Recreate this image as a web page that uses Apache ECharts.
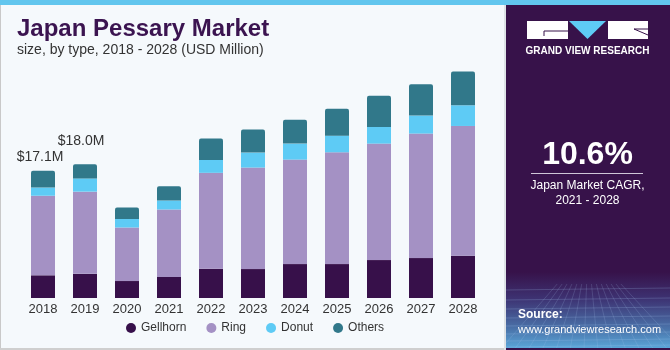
<!DOCTYPE html>
<html>
<head>
<meta charset="utf-8">
<script src="https://cdn.jsdelivr.net/npm/echarts@6/dist/echarts.min.js"></script>
<style>
  html, body { margin: 0; padding: 0; background: #f5f9fc; }
  #chart { width: 670px; height: 350px; }
</style>
</head>
<body>
<div id="chart"></div>
<script>
// values (USD Million)
const years = ['2018', '2019', '2020', '2021', '2022', '2023', '2024', '2025', '2026', '2027', '2028'];
const gellhorn = [3.05, 3.25, 2.28, 2.82, 3.93, 3.89, 4.56, 4.56, 5.10, 5.37, 5.68];
const ring = [10.70, 11.05, 7.20, 9.08, 12.90, 13.65, 14.05, 15.03, 15.66, 16.74, 17.45];
const donut = [1.10, 1.78, 1.15, 1.21, 1.74, 2.01, 2.15, 2.24, 2.23, 2.42, 2.78];
const others = [2.25, 1.92, 1.53, 1.92, 2.87, 3.09, 3.22, 3.62, 4.21, 4.20, 4.56];
const totalLabels = ['$17.1M', '$18.0M'];

const colors = ['#37104a', '#a491c4', '#5ecbf5', '#31788a'];
const font = '"Liberation Sans", Arial, sans-serif';

const chart = echarts.init(document.getElementById('chart'));

// only the first two bars carry a total label
const labelOffsets = [[-3, -2], [-4, -11]];
const othersData = others.map((v, i) => {
  if (i < totalLabels.length) {
    return {
      value: v,
      label: {
        show: true,
        position: 'top',
        formatter: totalLabels[i],
        offset: labelOffsets[i],
        color: '#333',
        fontSize: 14,
        fontFamily: font
      }
    };
  }
  return v;
});

function bar(name, data, idx) {
  return {
    name: name,
    type: 'bar',
    stack: 'total',
    barWidth: 24,
    data: data,
    itemStyle: {
      color: colors[idx],
      borderRadius: idx === 3 ? [2, 2, 0, 0] : 0
    },
    emphasis: { disabled: true }
  };
}

// faint mesh at the foot of the side panel (decoration only)
const mesh = [];
[290, 300, 309, 318, 326, 334, 341, 347].forEach(y => {
  mesh.push({ type: 'line', silent: true, shape: { x1: 506, y1: y, x2: 670, y2: y - 2 },
    style: { stroke: 'rgba(170,200,240,0.22)', lineWidth: 1 } });
});
for (let x = 500; x <= 690; x += 14) {
  mesh.push({ type: 'line', silent: true, shape: { x1: 588 + (x - 588) * 0.35, y1: 284, x2: x, y2: 350 },
    style: { stroke: 'rgba(170,200,240,0.18)', lineWidth: 1 } });
}

const option = {
  backgroundColor: '#f5f9fc',
  animation: false,
  textStyle: { fontFamily: font },
  grid: { left: 22, right: 186, top: 60, bottom: 52 },
  xAxis: {
    type: 'category',
    data: years,
    axisLine: { show: false },
    axisTick: { show: false },
    axisLabel: { color: '#333', fontSize: 13, margin: 5, fontFamily: font }
  },
  yAxis: {
    type: 'value',
    min: 0,
    max: 32,
    show: false
  },
  legend: {
    left: 126,
    top: 322,
    padding: 0,
    icon: 'circle',
    itemWidth: 10,
    itemHeight: 10,
    itemGap: 20,
    textStyle: { color: '#333', fontSize: 12, fontFamily: font },
    data: ['Gellhorn', 'Ring', 'Donut', 'Others']
  },
  series: [
    bar('Gellhorn', gellhorn, 0),
    bar('Ring', ring, 1),
    bar('Donut', donut, 2),
    bar('Others', othersData, 3)
  ],
  graphic: [
    // frame lines
    { type: 'rect', shape: { x: 0, y: 0, width: 1, height: 350 }, style: { fill: '#c9c9c9' }, silent: true },
    { type: 'rect', shape: { x: 0, y: 348, width: 670, height: 2 }, style: { fill: '#cfcfcf' }, silent: true },
    { type: 'rect', shape: { x: 504, y: 0, width: 2, height: 350 }, style: { fill: '#dde2e6' }, silent: true },
    // right panel
    { type: 'rect', shape: { x: 506, y: 0, width: 164, height: 350 }, style: { fill: '#37124a' }, silent: true },
    {
      type: 'rect', shape: { x: 506, y: 272, width: 164, height: 76 }, silent: true,
      style: {
        fill: new echarts.graphic.LinearGradient(0, 0, 0, 1, [
          { offset: 0, color: '#37124a' },
          { offset: 0.35, color: '#3d3272' },
          { offset: 0.75, color: '#4a73aa' },
          { offset: 1, color: '#5aa6d8' }
        ])
      }
    },
    {
      type: 'group', silent: true,
      clipPath: { type: 'rect', shape: { x: 506, y: 284, width: 164, height: 64 } },
      children: mesh
    },
    // top strip
    { type: 'rect', shape: { x: 0, y: 0, width: 670, height: 5 }, style: { fill: '#62c6ee' }, silent: true },
    // title
    {
      type: 'text', x: 17, y: 29, silent: true,
      style: { text: 'Japan Pessary Market', fill: '#3b1450', font: 'bold 24px ' + font, verticalAlign: 'middle' }
    },
    {
      type: 'text', x: 17, y: 50, silent: true,
      style: { text: 'size, by type, 2018 - 2028 (USD Million)', fill: '#333', font: '14px ' + font, verticalAlign: 'middle' }
    },
    // logo
    { type: 'rect', shape: { x: 527, y: 21, width: 41, height: 18 }, style: { fill: '#fff' }, silent: true },
    { type: 'line', shape: { x1: 544, y1: 31, x2: 568, y2: 31 }, style: { stroke: '#37124a', lineWidth: 1 }, silent: true },
    { type: 'line', shape: { x1: 544, y1: 31, x2: 544, y2: 36 }, style: { stroke: '#37124a', lineWidth: 1 }, silent: true },
    { type: 'polygon', shape: { points: [[569, 21], [606, 21], [587.5, 39]] }, style: { fill: '#5ecbf5' }, silent: true },
    { type: 'rect', shape: { x: 608, y: 21, width: 40, height: 18 }, style: { fill: '#fff' }, silent: true },
    { type: 'line', shape: { x1: 634, y1: 29, x2: 648, y2: 35 }, style: { stroke: '#37124a', lineWidth: 1 }, silent: true },
    { type: 'line', shape: { x1: 634, y1: 29, x2: 648, y2: 29 }, style: { stroke: '#37124a', lineWidth: 1 }, silent: true },
    {
      type: 'text', x: 587.5, y: 51, silent: true,
      style: { text: 'GRAND VIEW RESEARCH', fill: '#fff', font: 'bold 10px ' + font, align: 'center', verticalAlign: 'middle' }
    },
    // CAGR block
    {
      type: 'text', x: 587.5, y: 155, silent: true,
      style: { text: '10.6%', fill: '#fff', font: 'bold 32px ' + font, align: 'center', verticalAlign: 'middle' }
    },
    { type: 'line', shape: { x1: 531, y1: 173.5, x2: 643, y2: 173.5 }, style: { stroke: '#cfc6d8', lineWidth: 1 }, silent: true },
    {
      type: 'text', x: 587.5, y: 186, silent: true,
      style: { text: 'Japan Market CAGR,', fill: '#fff', font: '12px ' + font, align: 'center', verticalAlign: 'middle' }
    },
    {
      type: 'text', x: 587.5, y: 201, silent: true,
      style: { text: '2021 - 2028', fill: '#fff', font: '12px ' + font, align: 'center', verticalAlign: 'middle' }
    },
    // source
    {
      type: 'text', x: 518, y: 315, silent: true,
      style: { text: 'Source:', fill: '#fff', font: 'bold 12px ' + font, verticalAlign: 'middle' }
    },
    {
      type: 'text', x: 518, y: 330, silent: true,
      style: { text: 'www.grandviewresearch.com', fill: '#fff', font: '11px ' + font, verticalAlign: 'middle' }
    }
  ]
};

chart.setOption(option);
</script>
</body>
</html>
